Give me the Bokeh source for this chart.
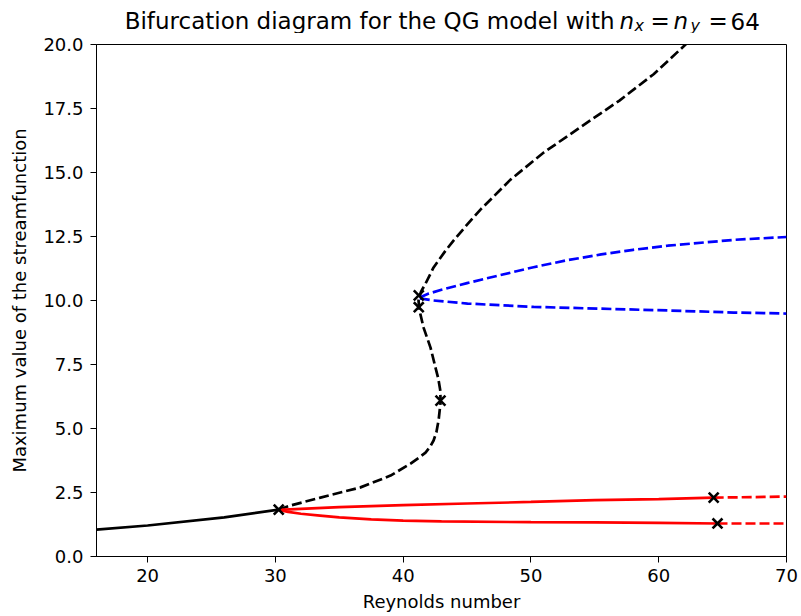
from bokeh.plotting import figure
from bokeh.layouts import column
from bokeh.models import Range1d, FixedTicker, PrintfTickFormatter, Label
from bokeh.embed import file_html
from bokeh.resources import INLINE

# ---------------- data ----------------
# stable branch (solid black)
base_x = [16.0, 20.0, 26.0, 30.26]
base_y = [1.05, 1.21, 1.53, 1.83]

# unstable S-shaped branch (dashed black)
s_x = [30.26, 31.17, 33.53, 36.66, 39.01, 40.58, 41.2, 41.75, 42.1, 42.38, 42.6, 42.78, 42.93,
       42.9, 42.75, 42.53, 42.14, 41.59, 41.28, 41.20, 41.4, 41.75, 42.38, 43.32, 43.94, 45.0,
       46.05, 48.40, 51.0, 53.9, 56.9, 59.6, 62.1, 62.9]
s_y = [1.83, 1.99, 2.30, 2.70, 3.16, 3.63, 3.85, 4.06, 4.28, 4.53, 4.85, 5.35, 6.05,
       6.5, 6.95, 7.38, 8.16, 8.95, 9.61, 10.0, 10.35, 10.66, 11.29, 11.95, 12.34, 12.96,
       13.55, 14.72, 15.78, 16.78, 17.8, 18.84, 20.0, 20.4]

# blue branches (dashed)
blue_up_x = [41.3, 42.0, 43.0, 45.0, 47.5, 50.2, 52.8, 55.5, 58.0, 60.7, 65.9, 70.0]
blue_up_y = [10.12, 10.27, 10.42, 10.68, 10.98, 11.30, 11.57, 11.80, 11.98, 12.14, 12.37, 12.48]
blue_lo_x = [41.3, 42.37, 45.04, 50.21, 55.46, 60.71, 65.87, 70.0]
blue_lo_y = [10.08, 10.0, 9.88, 9.75, 9.68, 9.61, 9.53, 9.49]

# red branches: solid part then dashed part
red_up_x = [30.26, 35.0, 40.0, 45.0, 50.0, 55.0, 60.0, 64.3]
red_up_y = [1.82, 1.93, 2.01, 2.07, 2.13, 2.20, 2.24, 2.30]
red_up_dash_x = [64.3, 70.0]
red_up_dash_y = [2.30, 2.34]
red_lo_x = [30.26, 31.0, 32.0, 33.5, 35.0, 37.5, 40.0, 43.0, 50.0, 55.0, 60.0, 64.6]
red_lo_y = [1.82, 1.74, 1.67, 1.60, 1.53, 1.45, 1.40, 1.37, 1.34, 1.33, 1.31, 1.29]
red_lo_dash_x = [64.6, 70.0]
red_lo_dash_y = [1.29, 1.29]

# bifurcation points
bif_x = [30.26, 41.22, 41.22, 42.92, 64.3, 64.6]
bif_y = [1.83, 10.2, 9.74, 6.09, 2.30, 1.29]

x_ticks = [20, 30, 40, 50, 60, 70]
y_ticks = [0.0, 2.5, 5.0, 7.5, 10.0, 12.5, 15.0, 17.5, 20.0]

x_label = "Reynolds number"
y_label = "Maximum value of the streamfunction"
title_main = "Bifurcation diagram for the QG model with"

FONT = "DejaVu Sans"
LEFT = 96
RIGHT = 14

# ---------------- title strip ----------------
TH = 33
tf = figure(width=800, height=TH, output_backend="svg", toolbar_location=None,
            x_range=Range1d(0, 1), y_range=Range1d(0, 1),
            x_axis_location=None, y_axis_location=None,
            min_border_left=LEFT, min_border_right=RIGHT, min_border_top=0, min_border_bottom=0)
tf.title.visible = False
tf.xgrid.visible = False
tf.ygrid.visible = False
tf.outline_line_color = None

def tlabel(px, py, text, size="23px", style="normal", align="left", shift=7):
    tf.add_layout(Label(x=px - LEFT, y=TH - py + shift, x_units="screen", y_units="screen", text=text,
                        text_font=FONT, text_font_size=size, text_font_style=style,
                        text_align=align, text_baseline="alphabetic", text_color="black"))

TY = 27.5    # baseline (page px from top)
SUBY = 29.5  # subscript baseline
tlabel(614, TY, title_main, align="right")
tlabel(619, TY, "n", style="italic")
tlabel(634, SUBY, "x", size="16px", style="italic", shift=5)
tlabel(650, TY, "=")
tlabel(673, TY, "n", style="italic")
tlabel(690, SUBY, "y", size="16px", style="italic", shift=5)
tlabel(708, TY, "=")
tlabel(730, TY, "64")

# ---------------- main figure ----------------
p = figure(width=800, height=583, output_backend="svg", toolbar_location=None,
           x_range=Range1d(16, 70), y_range=Range1d(0, 20),
           min_border_left=LEFT, min_border_right=RIGHT, min_border_top=11, min_border_bottom=60)
p.title.visible = False
p.xgrid.visible = False
p.ygrid.visible = False
p.outline_line_color = "black"
p.outline_line_width = 1
p.outline_line_alpha = 1

for ax in (p.xaxis[0], p.yaxis[0]):
    ax.major_tick_out = 6
    ax.major_tick_in = 0
    ax.minor_tick_out = 0
    ax.minor_tick_in = 0
    ax.axis_line_color = "black"
    ax.major_tick_line_color = "black"
    ax.major_label_text_font = FONT
    ax.major_label_text_font_size = "18px"
    ax.major_label_text_color = "black"
    ax.axis_label_text_font = FONT
    ax.axis_label_text_font_size = "18px"
    ax.axis_label_text_font_style = "normal"
    ax.axis_label_text_color = "black"

p.xaxis[0].ticker = FixedTicker(ticks=x_ticks)
p.xaxis[0].formatter = PrintfTickFormatter(format="%d")
p.xaxis[0].major_label_standoff = 6
p.xaxis[0].axis_label = x_label
p.xaxis[0].axis_label_standoff = 6
p.yaxis[0].ticker = FixedTicker(ticks=y_ticks)
p.yaxis[0].formatter = PrintfTickFormatter(format="%.1f")
p.yaxis[0].major_label_standoff = 7
p.yaxis[0].axis_label = y_label
p.yaxis[0].axis_label_standoff = 10

LW = 2.7
DASH = "10 4"
p.line(base_x, base_y, line_color="black", line_width=LW)
p.line(s_x, s_y, line_color="black", line_width=LW, line_dash=DASH)
p.line(blue_up_x, blue_up_y, line_color="blue", line_width=LW, line_dash=DASH)
p.line(blue_lo_x, blue_lo_y, line_color="blue", line_width=LW, line_dash=DASH)
p.line(red_up_x, red_up_y, line_color="red", line_width=LW)
p.line(red_lo_x, red_lo_y, line_color="red", line_width=LW)
p.line(red_up_dash_x, red_up_dash_y, line_color="red", line_width=LW, line_dash=DASH)
p.line(red_lo_dash_x, red_lo_dash_y, line_color="red", line_width=LW, line_dash=DASH)
p.scatter(bif_x, bif_y, marker="x", size=14, line_width=2.6, line_color="black")

layout = column(tf, p, spacing=0)
open("out.html", "w").write(file_html(layout, INLINE))
